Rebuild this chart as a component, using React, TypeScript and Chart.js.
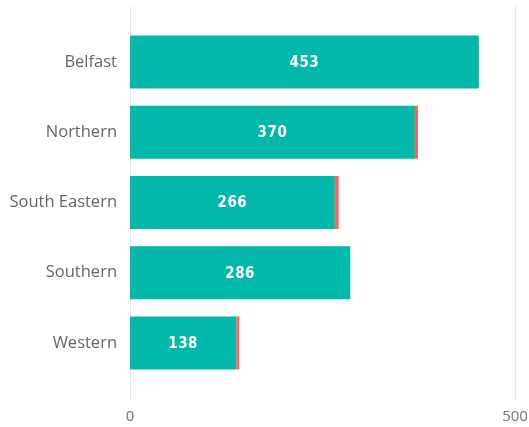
import React, { useEffect, useRef } from "react";
import { Chart, registerables } from "chart.js";

Chart.register(...registerables);

const categories = ["Belfast", "Northern", "South Eastern", "Southern", "Western"];
const mainValues = [453, 370, 266, 286, 138];
const extraValues = [0, 4, 5, 0, 4];
const xTicks = [0, 500];

const TEAL = "#01B8AA";
const RED = "#FD625E";

const gridPlugin = {
  id: "extGrid",
  beforeDatasetsDraw(chart: any) {
    const { ctx, chartArea, scales } = chart;
    const x = scales.x;
    ctx.save();
    ctx.strokeStyle = "#E9E9E9";
    ctx.lineWidth = 1;
    xTicks.forEach((t) => {
      const px = Math.round(x.getPixelForValue(t)) + 0.5;
      ctx.beginPath();
      ctx.moveTo(px, chartArea.top - 21);
      ctx.lineTo(px, chartArea.bottom + 22);
      ctx.stroke();
    });
    ctx.restore();
  },
};

const labelPlugin = {
  id: "barLabels",
  afterDatasetsDraw(chart: any) {
    const { ctx } = chart;
    const meta = chart.getDatasetMeta(0);
    ctx.save();
    ctx.fillStyle = "#FFFFFF";
    ctx.font = "bold 15px 'DejaVu Sans Condensed', sans-serif";
    (ctx as any).letterSpacing = "0.5px";
    ctx.textAlign = "center";
    ctx.textBaseline = "middle";
    meta.data.forEach((bar: any, i: number) => {
      const cx = (bar.x + bar.base) / 2;
      ctx.fillText(String(mainValues[i]), cx, bar.y + 1);
    });
    ctx.restore();
  },
};

export default function App() {
  const ref = useRef<HTMLCanvasElement>(null);
  useEffect(() => {
    document.body.style.margin = "0";
    const chart = new Chart(ref.current!, {
      type: "bar",
      data: {
        labels: categories,
        datasets: [
          { data: mainValues, backgroundColor: TEAL, borderWidth: 0 },
          { data: extraValues, backgroundColor: RED, borderWidth: 0 },
        ],
      },
      options: {
        indexAxis: "y",
        animation: false,
        responsive: false,
        layout: { padding: { top: 27, right: 14, left: 0, bottom: 0 } },
        datasets: { bar: { categoryPercentage: 1, barPercentage: 0.755 } } as any,
        plugins: { legend: { display: false }, tooltip: { enabled: false } },
        scales: {
          x: {
            stacked: true,
            min: 0,
            max: 500,
            afterBuildTicks(scale: any) {
              scale.ticks = xTicks.map((v) => ({ value: v }));
            },
            afterFit(scale: any) {
              scale.height = 49;
              scale.paddingRight = 0;
              scale.paddingLeft = 0;
            },
            grid: { display: false, drawTicks: false },
            border: { display: false },
            ticks: {
              padding: 30,
              color: "#777777",
              font: { family: "'Open Sans', sans-serif", size: 15 },
            },
          },
          y: {
            stacked: true,
            afterFit(scale: any) {
              scale.width = 130;
            },
            grid: { display: false, drawTicks: false },
            border: { display: false },
            ticks: {
              padding: 13,
              color: "#666666",
              font: { family: "'Open Sans', sans-serif", size: 16.5 },
            },
          },
        },
      },
      plugins: [gridPlugin, labelPlugin],
    });
    return () => chart.destroy();
  }, []);
  return <canvas ref={ref} width={529} height={427} style={{ display: "block" }} />;
}
